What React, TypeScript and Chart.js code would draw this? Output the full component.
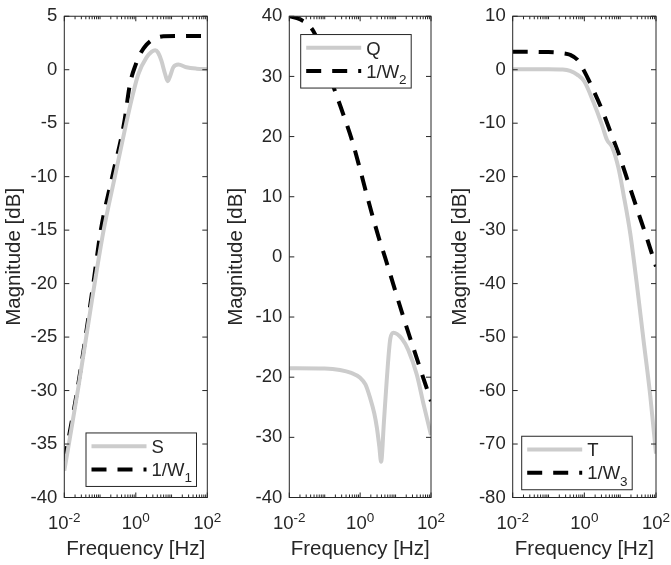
import React, { useEffect, useRef } from 'react';
import { Chart, registerables } from 'chart.js';

Chart.register(...registerables);

const FONT = '"Liberation Sans", Arial, Helvetica, sans-serif';
const INK = '#262626';
const GREY = '#cccccc';
const BLACK = '#000000';

// ---------- shared axis text ----------
const xTicks = [0.01, 1, 100];
const xTickLabels = ['10⁻²', '10⁰', '10²'];
const xDecades = [0.01, 0.1, 1, 10];
const xMinorMultipliers = [1, 2, 3, 4, 5, 6, 7, 8, 9];
const xTitle = 'Frequency [Hz]';
const yTitle = 'Magnitude [dB]';

// ---------- panel 1: S and 1/W1 ----------
const labels1 = ['S', '1/W₁'];
const yTicks1 = [5, 0, -5, -10, -15, -20, -25, -30, -35, -40];
const sFreq = [0.01, 0.025, 0.063, 0.126, 0.26, 0.54, 0.8, 1.18, 2.0, 2.8, 3.5, 4.2, 5.2, 6.6, 7.8, 9.1, 11.2, 15.5, 26, 50, 100];
const sMag = [-37.5, -29.6, -21.0, -15.0, -10.0, -5.0, -2.5, -0.4, 1.15, 1.7, 1.83, 1.6, 0.85, -0.4, -1.07, -0.6, 0.23, 0.48, 0.23, 0.1, 0.05];
const w1Freq = [0.01, 0.023, 0.063, 0.105, 0.22, 0.47, 0.69, 1.0, 1.32, 2.0, 3.1, 5.9, 16, 100];
const w1Mag = [-36.6, -30.0, -20.3, -15.0, -10.0, -5.0, -1.3, 0.5, 1.46, 2.35, 2.85, 3.12, 3.15, 3.15];

// ---------- panel 2: Q and 1/W2 ----------
const labels2 = ['Q', '1/W₂'];
const yTicks2 = [40, 30, 20, 10, 0, -10, -20, -30, -40];
const qFreq = [0.01, 0.1, 0.27, 0.56, 1.0, 1.41, 1.9, 2.5, 2.95, 3.47, 3.9, 4.68, 5.6, 7.1, 8.7, 15.1, 22.9, 39.8, 61.7, 100];
const qMag = [-18.5, -18.55, -18.8, -19.3, -20.1, -21.2, -23.4, -26.0, -28.3, -31.5, -34.05, -27.5, -20.7, -13.6, -12.6, -13.6, -15.5, -19.6, -24.5, -29.6];
const w2Freq = [0.01, 0.02, 0.048, 0.1, 0.141, 0.32, 0.58, 1.0, 1.54, 3.27, 5.0, 16.6, 100];
const w2Mag = [40.0, 39.5, 37.5, 33.0, 30.0, 24.0, 19.5, 14.5, 10.3, 3.4, 0.0, -10.0, -24.0];

// ---------- panel 3: T and 1/W3 ----------
const labels3 = ['T', '1/W₃'];
const yTicks3 = [10, 0, -10, -20, -30, -40, -50, -60, -70, -80];
const tFreq = [0.01, 0.1, 0.25, 0.4, 0.63, 1.0, 1.78, 3.1, 4.27, 5.9, 8.9, 12.3, 19.1, 28.8, 44.7, 69.2, 100];
const tMag = [0.1, 0.1, 0.05, -0.2, -0.9, -2.2, -6.0, -10.3, -13.1, -14.4, -18.3, -23.2, -30.6, -39.8, -50.5, -61.0, -71.8];
const w3Freq = [0.01, 0.1, 0.25, 0.4, 0.63, 1.0, 1.78, 3.16, 5.62, 10, 17.8, 31.6, 56.2, 100];
const w3Mag = [3.35, 3.3, 3.1, 2.8, 1.9, -0.3, -3.8, -7.6, -12.0, -16.5, -21.6, -26.6, -31.6, -36.8];

// ---------- layout ----------
const PAGE_W = 671;
const PAGE_H = 565;
const AREA_TOP = 10;
const AREA_BOTTOM = 497.5;
const TICK_SIZE = 18.5;
const TITLE_SIZE = 20.5;
const MAJOR_LEN = 5;
const MINOR_LEN = 3;
const LEG_W = 110.5;
const LEG_H = 53.5;

type Panel = {
  left: number;
  width: number;
  areaLeft: number;
  areaRight: number;
  yTitlePad: number;
  legendX: number;
  legendY: number;
  yTicks: number[];
  labels: string[];
  greyF: number[];
  greyM: number[];
  dashF: number[];
  dashM: number[];
};

const panels: Panel[] = [
  { left: 0, width: 228, areaLeft: 64.3, areaRight: 207.3, yTitlePad: 2, legendX: 21.7, legendY: 416.7, yTicks: yTicks1, labels: labels1, greyF: sFreq, greyM: sMag, dashF: w1Freq, dashM: w1Mag },
  { left: 220, width: 232, areaLeft: 289.3, areaRight: 431, yTitlePad: 4.4, legendX: 11.4, legendY: 18.3, yTicks: yTicks2, labels: labels2, greyF: qFreq, greyM: qMag, dashF: w2Freq, dashM: w2Mag },
  { left: 440, width: 231, areaLeft: 512.7, areaRight: 656, yTitlePad: 8, legendX: 9, legendY: 420, yTicks: yTicks3, labels: labels3, greyF: tFreq, greyM: tMag, dashF: w3Freq, dashM: w3Mag },
];

// ---------- rich text (super/subscripts) ----------
const SUP: Record<string, string> = { '⁻': '-', '⁰': '0', '¹': '1', '²': '2', '³': '3', '⁴': '4', '⁵': '5', '⁶': '6', '⁷': '7', '⁸': '8', '⁹': '9' };
const SUB: Record<string, string> = { '₀': '0', '₁': '1', '₂': '2', '₃': '3', '₄': '4', '₅': '5' };

type Run = { t: string; k: 'n' | 'sup' | 'sub' };
function splitRuns(text: string): Run[] {
  const runs: Run[] = [];
  for (const ch of Array.from(text)) {
    let k: Run['k'] = 'n';
    let c = ch;
    if (SUP[ch]) { k = 'sup'; c = SUP[ch]; } else if (SUB[ch]) { k = 'sub'; c = SUB[ch]; }
    const last = runs[runs.length - 1];
    if (last && last.k === k) last.t += c; else runs.push({ t: c, k });
  }
  return runs;
}

function drawRich(ctx: CanvasRenderingContext2D, text: string, x: number, y: number, size: number, align: 'left' | 'center') {
  const small = size * 0.73;
  const runs = splitRuns(text);
  const fontOf = (r: Run) => `${r.k === 'n' ? size : small}px ${FONT}`;
  const widths = runs.map((r) => { ctx.font = fontOf(r); return ctx.measureText(r.t).width; });
  const total = widths.reduce((a, b) => a + b, 0);
  let cx = align === 'center' ? x - total / 2 : x;
  ctx.textAlign = 'left';
  ctx.textBaseline = 'alphabetic';
  runs.forEach((r, i) => {
    ctx.font = fontOf(r);
    const dy = r.k === 'sup' ? -0.39 * size : r.k === 'sub' ? 0.34 * size : 0;
    ctx.fillText(r.t, cx, y + dy);
    cx += widths[i];
  });
}

const xMinorTicks: number[] = [];
xDecades.forEach((d) => xMinorMultipliers.forEach((m) => {
  const v = m * d;
  if (!xTicks.some((t) => Math.abs(t - v) < 1e-9)) xMinorTicks.push(v);
}));

const matlabPlugin = {
  id: 'matlabAxes',
  afterDatasetsDraw(chart: any, _args: any, opts: any) {
    const ctx: CanvasRenderingContext2D = chart.ctx;
    const { left, right, top, bottom } = chart.chartArea;
    const xs = chart.scales.x;
    const ys = chart.scales.y;
    ctx.save();
    ctx.strokeStyle = INK;
    ctx.lineWidth = 1;
    ctx.setLineDash([]);
    ctx.beginPath();
    for (const t of ys.ticks) {
      const py = ys.getPixelForValue(t.value);
      ctx.moveTo(left, py); ctx.lineTo(left + MAJOR_LEN, py);
      ctx.moveTo(right, py); ctx.lineTo(right - MAJOR_LEN, py);
    }
    for (const t of xs.ticks) {
      const px = xs.getPixelForValue(t.value);
      ctx.moveTo(px, bottom); ctx.lineTo(px, bottom - MAJOR_LEN);
      ctx.moveTo(px, top); ctx.lineTo(px, top + MAJOR_LEN);
    }
    for (const v of xMinorTicks) {
      const px = xs.getPixelForValue(v);
      ctx.moveTo(px, bottom); ctx.lineTo(px, bottom - MINOR_LEN);
      ctx.moveTo(px, top); ctx.lineTo(px, top + MINOR_LEN);
    }
    ctx.stroke();
    ctx.strokeRect(left, top, right - left, bottom - top);

    // x tick labels with superscripts
    ctx.fillStyle = INK;
    xs.ticks.forEach((t: any) => {
      const idx = xTicks.findIndex((v) => Math.abs(v - t.value) < 1e-9);
      const px = xs.getPixelForValue(t.value);
      drawRich(ctx, xTickLabels[idx], px, bottom + 31.5, TICK_SIZE, 'center');
    });

    // legend box
    const lx = left + opts.legendX;
    const ly = top + opts.legendY;
    ctx.fillStyle = '#ffffff';
    ctx.fillRect(lx, ly, LEG_W, LEG_H);
    ctx.strokeStyle = INK;
    ctx.lineWidth = 1;
    ctx.strokeRect(lx, ly, LEG_W, LEG_H);
    chart.data.datasets.forEach((ds: any, i: number) => {
      const ry = ly + 13.3 + i * 23.2;
      ctx.save();
      ctx.strokeStyle = ds.borderColor;
      ctx.lineWidth = ds.borderWidth;
      ctx.lineCap = 'butt';
      ctx.setLineDash(ds.borderDash || []);
      ctx.beginPath();
      ctx.moveTo(lx + 5.5, ry);
      ctx.lineTo(lx + 60.5, ry);
      ctx.stroke();
      ctx.restore();
      ctx.fillStyle = INK;
      drawRich(ctx, ds.label, lx + 65.5, ry + 6.7, TICK_SIZE, 'left');
    });
    ctx.restore();
  },
};

function buildChart(canvas: HTMLCanvasElement, p: Panel) {
  const toPts = (f: number[], m: number[]) => f.map((x, i) => ({ x, y: m[i] }));
  const common = { pointRadius: 0, borderWidth: 4, cubicInterpolationMode: 'monotone' as const, clip: 0, fill: false, borderCapStyle: 'butt' as const, borderJoinStyle: 'round' as const };
  return new Chart(canvas, {
    type: 'line',
    data: {
      datasets: [
        { ...common, label: p.labels[0], data: toPts(p.greyF, p.greyM), borderColor: GREY, borderDash: [] },
        { ...common, label: p.labels[1], data: toPts(p.dashF, p.dashM), borderColor: BLACK, borderDash: [15, 11] },
      ],
    },
    options: {
      animation: false,
      responsive: false,
      events: [],
      layout: { padding: { left: 0, top: AREA_TOP, right: p.width - (p.areaRight - p.left), bottom: 0 } },
      plugins: {
        legend: { display: false },
        tooltip: { enabled: false },
        matlabAxes: { legendX: p.legendX, legendY: p.legendY },
      } as any,
      scales: {
        x: {
          type: 'logarithmic',
          min: xTicks[0],
          max: xTicks[xTicks.length - 1],
          grid: { display: false, drawTicks: false },
          border: { display: false },
          ticks: { display: false },
          afterBuildTicks: (s: any) => { s.ticks = xTicks.map((v) => ({ value: v })); },
          afterFit: (s: any) => { s.height = PAGE_H - AREA_BOTTOM; },
          title: { display: true, text: xTitle, color: INK, font: { family: FONT, size: TITLE_SIZE }, padding: { top: 0, bottom: 3 } },
        },
        y: {
          type: 'linear',
          min: p.yTicks[p.yTicks.length - 1],
          max: p.yTicks[0],
          grid: { display: false, drawTicks: false },
          border: { display: false },
          ticks: { color: INK, font: { family: FONT, size: TICK_SIZE, lineHeight: 1 }, padding: 7 },
          afterBuildTicks: (s: any) => { s.ticks = p.yTicks.map((v) => ({ value: v })); },
          afterFit: (s: any) => { s.width = p.areaLeft - p.left; },
          title: { display: true, text: yTitle, color: INK, font: { family: FONT, size: TITLE_SIZE }, padding: { top: p.yTitlePad, bottom: 0 } },
        },
      },
    } as any,
    plugins: [matlabPlugin],
  });
}

function PanelChart({ p }: { p: Panel }) {
  const ref = useRef<HTMLCanvasElement | null>(null);
  useEffect(() => {
    if (!ref.current) return;
    const chart = buildChart(ref.current, p);
    return () => chart.destroy();
  }, [p]);
  return (
    <div style={{ position: 'absolute', left: p.left, top: 0, width: p.width, height: PAGE_H }}>
      <canvas ref={ref} width={p.width} height={PAGE_H} style={{ width: p.width, height: PAGE_H, display: 'block' }} />
    </div>
  );
}

export default function App() {
  return (
    <div style={{ position: 'absolute', left: 0, top: 0, width: PAGE_W, height: PAGE_H, background: '#ffffff', overflow: 'hidden' }}>
      {panels.map((p, i) => (
        <PanelChart key={i} p={p} />
      ))}
    </div>
  );
}
